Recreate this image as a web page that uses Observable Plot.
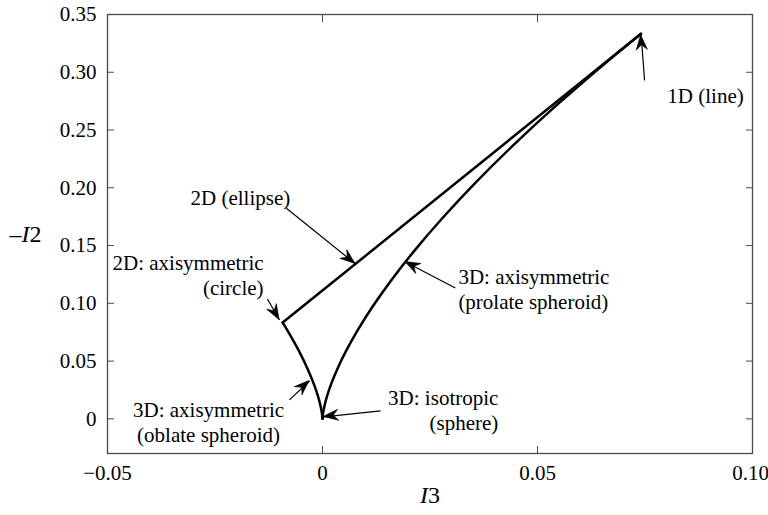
<!DOCTYPE html>
<html>
<head>
<meta charset="utf-8">
<script src="https://cdn.jsdelivr.net/npm/d3@7"></script>
<script src="https://cdn.jsdelivr.net/npm/@observablehq/plot@0.6"></script>
<style>
  html, body { margin: 0; padding: 0; background: white; overflow: hidden; }
</style>
</head>
<body>
<div id="chart"></div>
<script>
// Axisymmetric (prolate) boundary
const prolateI3 = [0, 0.000002, 0.000016, 0.000128, 0.000432, 0.001024, 0.002, 0.003456, 0.005488, 0.008192, 0.011664, 0.016, 0.021296, 0.027648, 0.035152, 0.043904, 0.054, 0.065536, 0.074074];
const prolateI2 = [0, 0.0003, 0.0012, 0.0048, 0.0108, 0.0192, 0.03, 0.0432, 0.0588, 0.0768, 0.0972, 0.12, 0.1452, 0.1728, 0.2028, 0.2352, 0.27, 0.3072, 0.333333];
// Axisymmetric (oblate) boundary
const oblateI3 = [0, -0.000002, -0.000016, -0.000128, -0.000432, -0.001024, -0.002, -0.003456, -0.005488, -0.008192, -0.009259];
const oblateI2 = [0, 0.0003, 0.0012, 0.0048, 0.0108, 0.0192, 0.03, 0.0432, 0.0588, 0.0768, 0.083333];
// Two-component (ellipse) line
const lineI3 = [-0.009259, 0.074074];
const lineI2 = [0.083333, 0.333333];

// Ticks
const xTicks = [-0.05, 0, 0.05, 0.10];
const xTickLabels = ["\u22120.05", "0", "0.05", "0.10"];
const yTicks = [0, 0.05, 0.10, 0.15, 0.20, 0.25, 0.30, 0.35];
const yTickLabels = ["0", "0.05", "0.10", "0.15", "0.20", "0.25", "0.30", "0.35"];

// Annotations
const noteText = ["1D (line)", "2D (ellipse)", "2D: axisymmetric\n(circle)", "3D: axisymmetric\n(prolate spheroid)", "3D: axisymmetric\n(oblate spheroid)", "3D: isotropic\n(sphere)"];
const noteAlign = ["start", "middle", "end", "start", "middle", "end"];
const noteX = [0.0802, -0.0191, -0.0137, 0.0316, -0.0265, 0.0409];
const noteY = [0.280, 0.1919, 0.1249, 0.1128, -0.0026, 0.0078];
const arrowX1 = [0.0749, -0.0084, -0.0128, 0.0309, -0.0077, 0.0135];
const arrowY1 = [0.293, 0.1823, 0.1037, 0.1132, 0.0164, 0.0069];
const arrowX2 = [0.0741, 0.00767, -0.0100, 0.0193, -0.0030, 0.0003];
const arrowY2 = [0.332, 0.1341, 0.0856, 0.1357, 0.0328, 0.0017];

const prolate = prolateI3.map((v, i) => ({I3: v, I2: prolateI2[i]}));
const oblate = oblateI3.map((v, i) => ({I3: v, I2: oblateI2[i]}));
const line2c = lineI3.map((v, i) => ({I3: v, I2: lineI2[i]}));
const arrows = arrowX1.map((v, i) => ({x1: v, y1: arrowY1[i], x2: arrowX2[i], y2: arrowY2[i]}));
const notes = noteText.map((t, i) => ({text: t, x: noteX[i], y: noteY[i], align: noteAlign[i]}));

const frameColor = "#4a4a4a";
const fs = 21;

function arrowHeads(index, scales) {
  const g = d3.create("svg:g").attr("fill", "black");
  for (const a of arrows) {
    const x1 = scales.x(a.x1), y1 = scales.y(a.y1);
    const x2 = scales.x(a.x2), y2 = scales.y(a.y2);
    const ang = Math.atan2(y2 - y1, x2 - x1) * 180 / Math.PI;
    g.append("path")
      .attr("d", "M0,0L-15,-5.6L-10,0L-15,5.6Z")
      .attr("stroke", "black").attr("stroke-width", 0.6).attr("stroke-linejoin", "miter")
      .attr("transform", `translate(${x2},${y2}) rotate(${ang})`);
  }
  return g.node();
}

const noteMarks = ["start", "middle", "end"].map(al =>
  Plot.text(notes.filter(d => d.align === al), {
    x: "x", y: "y", text: "text", textAnchor: al, lineAnchor: "middle",
    lineHeight: 1.18, fontSize: fs, fill: "black"
  })
);

const xLab = xTicks.map((v, i) => ({v, t: xTickLabels[i]}));

const chart = Plot.plot({
  width: 768,
  height: 515,
  marginLeft: 107,
  marginRight: 16,
  marginTop: 14,
  marginBottom: 62,
  x: {domain: [-0.05, 0.10]},
  y: {domain: [-0.03, 0.35]},
  style: {fontFamily: "'Liberation Serif', 'Times New Roman', serif", fontSize: fs + "px", color: "black", background: "white", overflow: "visible"},
  marks: [
    Plot.frame({stroke: frameColor, strokeWidth: 1.3}),
    // tick labels
    Plot.text(xLab.slice(0, 3), {x: "v", text: "t", frameAnchor: "bottom", lineAnchor: "top", dy: 12, fontSize: fs, fill: "black"}),
    Plot.text(xLab.slice(3), {x: "v", text: "t", frameAnchor: "bottom", lineAnchor: "top", dy: 12, dx: -2, fontSize: fs, fill: "black"}),
    Plot.axisY(yTicks, {anchor: "left", tickSize: 0, tickPadding: 11, tickFormat: d => yTickLabels[yTicks.indexOf(d)], label: null, fontSize: fs}),
    // inward ticks on all four sides
    Plot.axisX(xTicks, {anchor: "bottom", tickSize: 7, dy: -7, tickFormat: () => "", label: null, stroke: frameColor}),
    Plot.axisX(xTicks, {anchor: "top", tickSize: 7, dy: 7, tickFormat: () => "", label: null, stroke: frameColor}),
    Plot.axisY(yTicks, {anchor: "left", tickSize: 7, dx: 7, tickFormat: () => "", label: null, stroke: frameColor}),
    Plot.axisY(yTicks, {anchor: "right", tickSize: 7, dx: -7, tickFormat: () => "", label: null, stroke: frameColor}),
    // curves
    Plot.line(prolate, {x: "I3", y: "I2", curve: "catmull-rom", stroke: "black", strokeWidth: 2.5}),
    Plot.line(oblate, {x: "I3", y: "I2", curve: "catmull-rom", stroke: "black", strokeWidth: 2.5}),
    Plot.line(line2c, {x: "I3", y: "I2", stroke: "black", strokeWidth: 2.5, strokeLinecap: "round"}),
    // annotation arrows
    Plot.link(arrows, {x1: "x1", y1: "y1", x2: "x2", y2: "y2", stroke: "black", strokeWidth: 1.2}),
    arrowHeads,
    ...noteMarks,
    // axis titles
    Plot.text(["\u2013I2"], {frameAnchor: "left", textAnchor: "middle", dx: -82, fontSize: 24, fill: "black"}),
    Plot.text(["I3"], {frameAnchor: "bottom", textAnchor: "middle", dy: 49, fontSize: 24, fill: "black"})
  ]
});

// Italicize the symbol part of the axis titles
d3.select(chart).selectAll("text").each(function() {
  const t = this.textContent;
  if (t === "\u2013I2" || t === "I3") {
    const sel = d3.select(this);
    const sym = t.slice(0, -1), num = t.slice(-1);
    sel.text(null);
    sel.append("tspan").attr("font-style", "italic").text(sym);
    sel.append("tspan").text(num);
  }
});

document.getElementById("chart").appendChild(chart);
</script>
</body>
</html>
